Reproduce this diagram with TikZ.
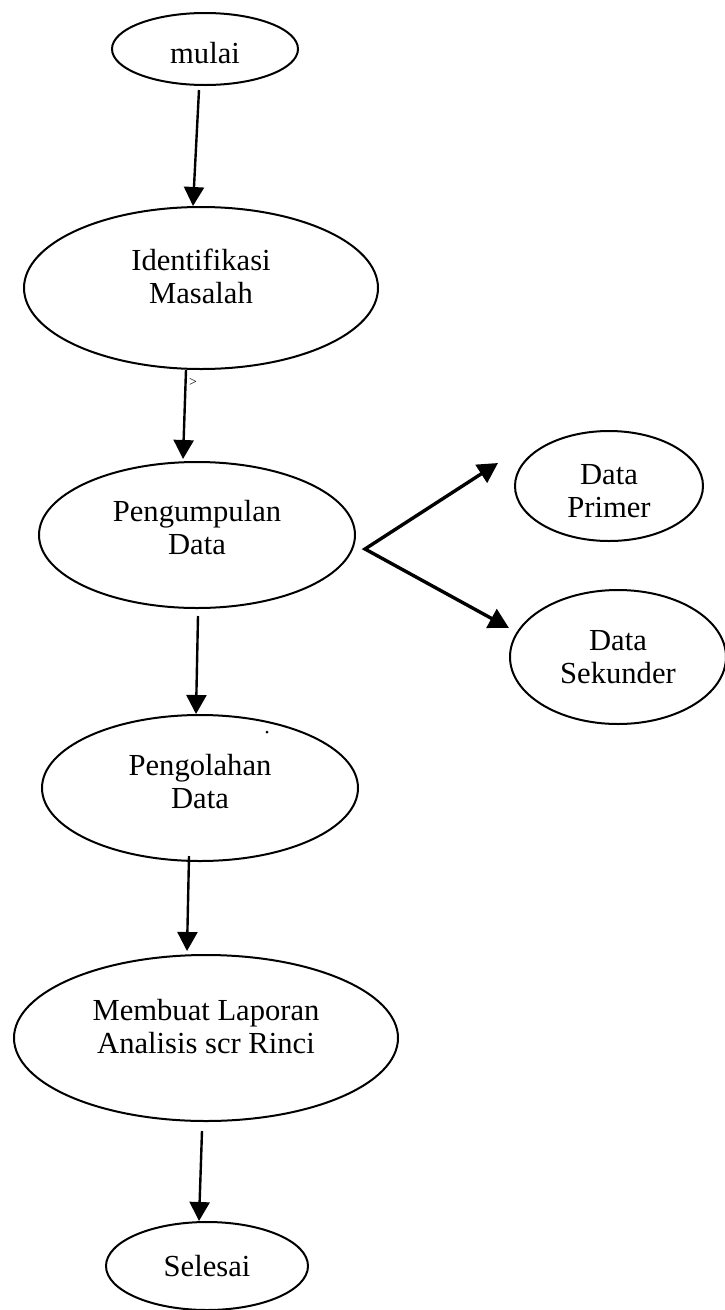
\documentclass[tikz,border=0pt]{standalone}
\usepackage{fontspec}
\setmainfont{Liberation Serif}
\usetikzlibrary{shapes.geometric,arrows.meta}
\tikzset{
  oval/.style={draw=black, line width=2pt, ellipse, inner sep=0pt},
  txt/.style={inner sep=0pt, align=center, font=\fontsize{30.6}{33}\selectfont},
  arr/.style={line width=2.4pt, -{Triangle[length=19pt,width=20pt]}},
  arrb/.style={line width=3.4pt, {Triangle[length=20pt,width=21pt]}-{Triangle[length=20pt,width=21pt]}, line join=miter},
}
\begin{document}
\begin{tikzpicture}[x=1pt,y=-1pt]
\useasboundingbox (0,0) rectangle (724,1310);
\node[oval, minimum width=186pt, minimum height=72pt] (mulai) at (205,49) {};
\node[oval, minimum width=354pt, minimum height=162pt] (ident) at (201,288) {};
\node[oval, minimum width=316pt, minimum height=146pt] (kumpul) at (197,535) {};
\node[oval, minimum width=188pt, minimum height=110pt] (primer) at (609,486) {};
\node[oval, minimum width=216pt, minimum height=134pt] (sekunder) at (618,657) {};
\node[oval, minimum width=316pt, minimum height=146pt] (olah) at (200,788) {};
\node[oval, minimum width=384pt, minimum height=166pt] (laporan) at (206,1038) {};
\node[oval, minimum width=202pt, minimum height=88pt] (selesai) at (207,1266) {};

\node[txt] (mulaiT) at ([yshift=-4pt]mulai.center) {mulai};
\node[txt] (identT) at ([yshift=12pt]ident.center) {Identifikasi\\Masalah};
\node[txt] (kumpulT) at ([yshift=7pt]kumpul.center) {Pengumpulan\\Data};
\node[txt] (primerT) at ([yshift=-5pt]primer.center) {Data\\Primer};
\node[txt] (sekunderT) at (sekunder.center) {Data\\Sekunder};
\node[txt] (olahT) at ([yshift=6pt]olah.center) {Pengolahan\\Data};
\node[txt] (laporanT) at ([yshift=11pt]laporan.center) {Membuat Laporan\\Analisis scr Rinci};
\node[txt] (selesaiT) at (selesai.center) {Selesai};

\draw[arr] ([xshift=-6pt,yshift=-4pt]mulai.south) -- ([xshift=-8pt]ident.north);
\draw[arr] ([xshift=-15pt]ident.south) -- ([xshift=-14pt,yshift=2pt]kumpul.north);
\draw[arr] ([xshift=1pt,yshift=-7pt]kumpul.south) -- ([xshift=-4pt]olah.north);
\draw[arr] ([xshift=-11pt,yshift=6pt]olah.south) -- ([xshift=-19pt,yshift=3pt]laporan.north);
\draw[arr] ([xshift=-4pt,yshift=-9pt]laporan.south) -- ([xshift=-8pt]selesai.north);

\coordinate (v) at (365,549);
\coordinate (tp) at (498,463);
\coordinate (ts) at (509,628);
\draw[arrb] (tp) -- (v) -- (ts);

\node[inner sep=0pt, font=\fontsize{14}{14}\selectfont] (mark) at (193,382) {>};
\fill (267,732) circle (1.5pt);
\end{tikzpicture}
\end{document}
